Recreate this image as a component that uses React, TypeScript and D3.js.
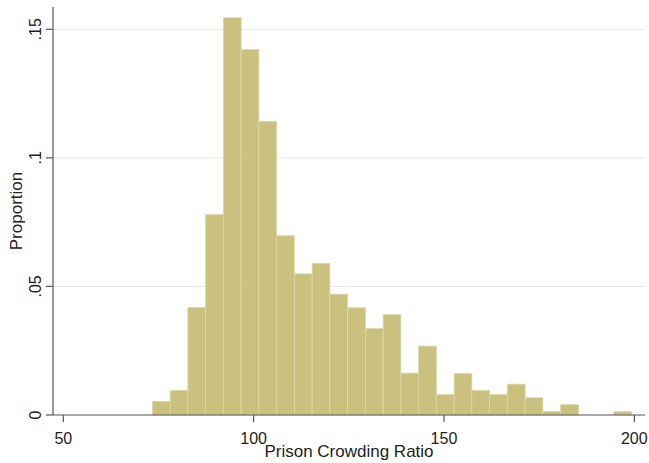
import React from "react";
import * as d3 from "d3";

// histogram of the prison crowding ratio, 27 bins
const binStart = 73.4;
const binWidth = 4.663;
const proportions = [
  0.0053, 0.0096, 0.0418, 0.0779, 0.1545, 0.1421, 0.1142, 0.0697, 0.0549,
  0.0589, 0.047, 0.0417, 0.0336, 0.039, 0.0163, 0.0268, 0.008, 0.0162,
  0.0096, 0.008, 0.012, 0.0067, 0.0014, 0.004, 0, 0, 0.0013,
];
const xTicks = [50, 100, 150, 200];
const yTicks = [0, 0.05, 0.1, 0.15];
const yTickLabels = ["0", ".05", ".1", ".15"];

const W = 649;
const H = 463;
const left = 53;
const right = 645;
const top = 7;
const bottom = 415;

export default function App() {
  const x = d3.scaleLinear().domain([50, 200]).range([63.3, 634.3]);
  const y = d3.scaleLinear().domain([0, 0.15]).range([bottom, 29.3]);

  const bins = proportions.map((v, i) => ({
    x0: binStart + i * binWidth,
    x1: binStart + (i + 1) * binWidth,
    v,
  }));

  const font = "'Liberation Sans', Arial, sans-serif";

  return (
    <svg
      width={W}
      height={H}
      style={{ position: "absolute", left: 0, top: 0, background: "#fff" }}
      fontFamily={font}
    >
      {/* gridlines */}
      {yTicks.slice(1).map((t) => (
        <line
          key={t}
          x1={left}
          x2={right}
          y1={y(t)}
          y2={y(t)}
          stroke="#e8e8e8"
          strokeWidth={1}
        />
      ))}
      {/* bars */}
      {bins
        .filter((b) => b.v > 0)
        .map((b, i) => (
          <rect
            key={i}
            x={x(b.x0)}
            y={y(b.v)}
            width={x(b.x1) - x(b.x0)}
            height={bottom - y(b.v)}
            fill="#c9c17d"
            stroke="#ddd8ab"
            strokeWidth={0.8}
          />
        ))}
      {/* y axis */}
      <line x1={left} x2={left} y1={top} y2={bottom} stroke="#555" strokeWidth={1.2} />
      {yTicks.map((t, i) => (
        <g key={t} transform={`translate(${left},${y(t)})`}>
          <line x1={-7} x2={0} stroke="#555" strokeWidth={1.2} />
          <text
            transform="translate(-12,0) rotate(-90)"
            textAnchor="middle"
            fontSize={16}
            fill="#222"
          >
            {yTickLabels[i]}
          </text>
        </g>
      ))}
      <text
        transform={`translate(22,${(top + bottom) / 2}) rotate(-90)`}
        textAnchor="middle"
        fontSize={17}
        fill="#222"
      >
        Proportion
      </text>
      {/* x axis */}
      <line x1={left} x2={right} y1={bottom} y2={bottom} stroke="#555" strokeWidth={1.2} />
      {xTicks.map((t) => (
        <g key={t} transform={`translate(${x(t)},${bottom})`}>
          <line y1={0} y2={7} stroke="#555" strokeWidth={1.2} />
          <text y={28.5} textAnchor="middle" fontSize={16} fill="#222">
            {t}
          </text>
        </g>
      ))}
      <text
        x={(left + right) / 2}
        y={457}
        textAnchor="middle"
        fontSize={17}
        fill="#222"
      >
        Prison Crowding Ratio
      </text>
    </svg>
  );
}
